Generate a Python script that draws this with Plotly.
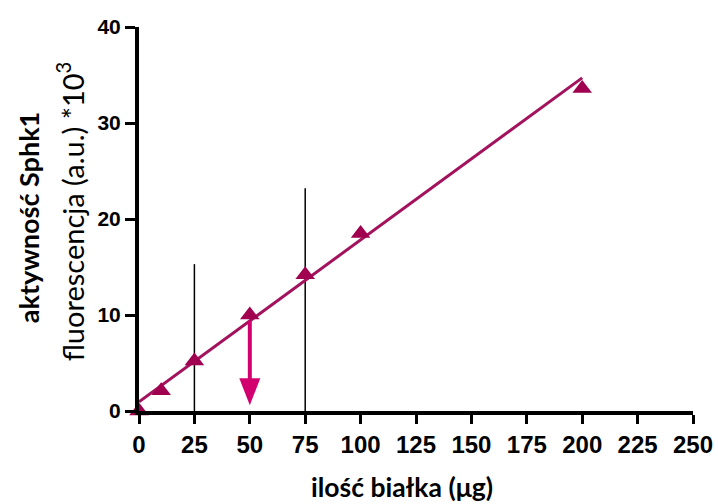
import plotly.graph_objects as go

# data
protein_ug = [0, 10, 25, 50, 75, 100, 200]
activity = [0.0, 2.1, 5.2, 10.0, 14.2, 18.5, 33.6]

fit_x = [0, 200]
fit_y = [0.95, 34.7]

ref_x = [25, 75]
ref_top = [15.3, 23.2]

arrow_x = 50
arrow_from = 9.4
arrow_to = 0.6

x_ticks = [0, 25, 50, 75, 100, 125, 150, 175, 200, 225, 250]
y_ticks = [0, 10, 20, 30, 40]

LINE_C = "#A3125C"
MARK_C = "#A0004F"
ARROW_C = "#D1006E"

fig = go.Figure()

for xv, top in zip(ref_x, ref_top):
    fig.add_trace(go.Scatter(x=[xv, xv], y=[0, top], mode="lines",
                             line=dict(color="black", width=1.5),
                             hoverinfo="skip", showlegend=False))

fig.add_trace(go.Scatter(x=fit_x, y=fit_y, mode="lines",
                         line=dict(color=LINE_C, width=3),
                         showlegend=False))

fig.add_trace(go.Scatter(x=protein_ug, y=activity, mode="markers",
                         marker=dict(symbol="triangle-up", size=17, color=MARK_C),
                         cliponaxis=False, showlegend=False))

# arrow shaft
fig.add_trace(go.Scatter(x=[arrow_x, arrow_x], y=[arrow_from, arrow_to + 2.5], mode="lines",
                         line=dict(color=ARROW_C, width=4),
                         hoverinfo="skip", showlegend=False))
# arrow head (pixel-sized, anchored at data point)
fig.add_shape(type="path", xref="x", yref="y", xsizemode="pixel", ysizemode="pixel",
              xanchor=arrow_x, yanchor=arrow_to,
              path="M-10.5,27 L10.5,27 L0,0 Z",
              fillcolor=ARROW_C, line=dict(width=0))

fig.update_layout(
    width=718, height=504,
    margin=dict(l=139, r=25, t=27, b=93, autoexpand=False),
    plot_bgcolor="white", paper_bgcolor="white",
    showlegend=False,
)

fig.update_xaxes(range=[0, 250], tickvals=x_ticks, ticktext=[str(v) for v in x_ticks],
                 showgrid=False, zeroline=False, showline=True, linecolor="black", linewidth=4,
                 ticks="outside", ticklen=9, tickwidth=3, tickcolor="black",
                 tickfont=dict(family="Liberation Sans", size=24, color="black", weight="bold"))
fig.update_yaxes(range=[0, 40], tickvals=y_ticks, ticktext=[str(v) for v in y_ticks],
                 showgrid=False, zeroline=False, showline=True, linecolor="black", linewidth=4,
                 ticks="outside", ticklen=10, tickwidth=3, tickcolor="black",
                 tickfont=dict(family="Liberation Sans", size=21, color="black", weight="bold"))

fig.add_annotation(text="ilość białka (μg)", xref="paper", yref="paper",
                   x=0.475, y=-0.198, xanchor="center", yanchor="middle", showarrow=False,
                   font=dict(family="Lato", size=26.5, color="black", weight="bold"))
fig.add_annotation(text="aktywność Sphk1", xref="paper", yref="paper",
                   x=-0.199, y=0.504, xanchor="center", yanchor="middle", showarrow=False,
                   textangle=-90,
                   font=dict(family="Lato", size=27, color="black", weight="bold"))
fig.add_annotation(text="fluorescencja (a.u.) *10<sup>3</sup>", xref="paper", yref="paper",
                   x=-0.124, y=0.521, xanchor="center", yanchor="middle", showarrow=False,
                   textangle=-90,
                   font=dict(family="Lato", size=29, color="black"))

fig.write_html("out.html")
